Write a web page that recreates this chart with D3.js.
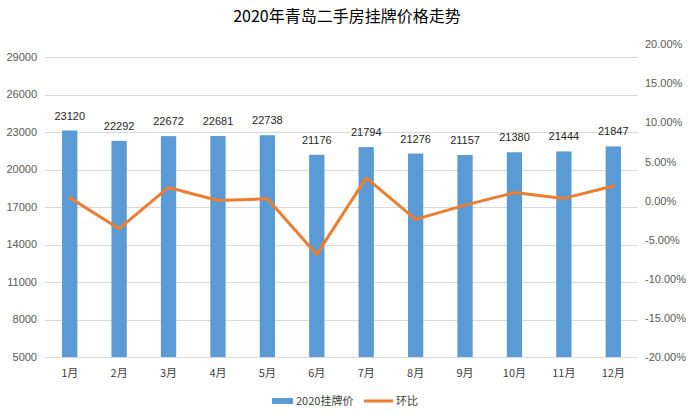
<!DOCTYPE html>
<html>
<head>
<meta charset="utf-8">
<script src="https://cdn.jsdelivr.net/npm/d3@7/dist/d3.min.js"></script>
<style>
  body { margin: 0; background: #fff; }
  text { font-family: "Noto Sans CJK SC", "Liberation Sans", sans-serif; }
</style>
</head>
<body>
<script>
var months = ['1月','2月','3月','4月','5月','6月','7月','8月','9月','10月','11月','12月'];
var prices = [23120, 22292, 22672, 22681, 22738, 21176, 21794, 21276, 21157, 21380, 21444, 21847];
var changes = [0.4, -3.58, 1.70, 0.04, 0.25, -6.87, 2.92, -2.38, -0.56, 1.05, 0.30, 1.88];
var leftTicks = [5000, 8000, 11000, 14000, 17000, 20000, 23000, 26000, 29000];
var rightTicks = [-20, -15, -10, -5, 0, 5, 10, 15, 20];

var width = 694,
    height = 414,
    plotLeft = 45,
    plotRight = 638,
    plotTop = 44.5,
    plotBottom = 357;

var svg = d3.select('body')
  .append('svg')
    .attr('width', width)
    .attr('height', height);

var x = d3.scaleBand()
  .domain(months)
  .range([plotLeft, plotRight])
  .paddingInner(0.69)
  .paddingOuter(0.345);

var y = d3.scaleLinear()
  .domain([5000, 30000])
  .range([plotBottom, plotTop]);

var y2 = d3.scaleLinear()
  .domain([-20, 20])
  .range([plotBottom, plotTop]);

// gridlines
svg.append('g')
  .selectAll('line')
    .data(leftTicks)
    .enter()
  .append('line')
    .attr('x1', plotLeft)
    .attr('x2', plotRight)
    .attr('y1', function(d) { return Math.round(y(d)) + 0.5; })
    .attr('y2', function(d) { return Math.round(y(d)) + 0.5; })
    .attr('stroke', '#d9d9d9')
    .attr('stroke-width', 1);

// left axis labels
svg.append('g')
  .selectAll('text')
    .data(leftTicks)
    .enter()
  .append('text')
    .attr('x', 37)
    .attr('y', function(d) { return y(d); })
    .attr('dy', '0.35em')
    .attr('text-anchor', 'end')
    .attr('font-size', 11)
    .attr('fill', '#595959')
    .style('font-family', 'Liberation Sans, sans-serif')
    .text(function(d) { return d; });

// right axis labels
svg.append('g')
  .selectAll('text')
    .data(rightTicks)
    .enter()
  .append('text')
    .attr('x', 645)
    .attr('y', function(d) { return y2(d); })
    .attr('dy', '0.35em')
    .attr('font-size', 11)
    .attr('fill', '#595959')
    .style('font-family', 'Liberation Sans, sans-serif')
    .text(function(d) { return d.toFixed(2) + '%'; });

// bars
svg.append('g')
  .selectAll('rect')
    .data(prices)
    .enter()
  .append('rect')
    .attr('x', function(d, i) { return x(months[i]); })
    .attr('y', function(d) { return y(d); })
    .attr('width', x.bandwidth())
    .attr('height', function(d) { return plotBottom - y(d); })
    .attr('fill', '#5b9bd5');

// bar labels
svg.append('g')
  .selectAll('text')
    .data(prices)
    .enter()
  .append('text')
    .attr('x', function(d, i) { return x(months[i]) + x.bandwidth() / 2; })
    .attr('y', function(d) { return y(d) - 11; })
    .attr('text-anchor', 'middle')
    .attr('font-size', 11)
    .attr('fill', '#262626')
    .style('font-family', 'Liberation Sans, sans-serif')
    .text(function(d) { return d; });

// change line
var line = d3.line()
  .x(function(d, i) { return x(months[i]) + x.bandwidth() / 2; })
  .y(function(d) { return y2(d); });

svg.append('path')
  .datum(changes)
  .attr('d', line)
  .attr('fill', 'none')
  .attr('stroke', '#ed7d31')
  .attr('stroke-width', 3)
  .attr('stroke-linejoin', 'round')
  .attr('stroke-linecap', 'round');

// month labels
svg.append('g')
  .selectAll('text')
    .data(months)
    .enter()
  .append('text')
    .attr('x', function(d) { return x(d) + x.bandwidth() / 2; })
    .attr('y', 373)
    .attr('dy', '0.35em')
    .attr('text-anchor', 'middle')
    .attr('font-size', 11)
    .attr('fill', '#404040')
    .text(function(d) { return d; });

// title
svg.append('text')
  .attr('x', 347)
  .attr('y', 16)
  .attr('dy', '0.35em')
  .attr('text-anchor', 'middle')
  .attr('font-size', 16)
  .attr('fill', '#000')
  .text('2020年青岛二手房挂牌价格走势');

// legend
var legend = svg.append('g');
legend.append('rect')
  .attr('x', 272)
  .attr('y', 398)
  .attr('width', 21)
  .attr('height', 6)
  .attr('fill', '#5b9bd5');
legend.append('text')
  .attr('x', 296)
  .attr('y', 401)
  .attr('dy', '0.35em')
  .attr('font-size', 11)
  .attr('fill', '#404040')
  .text('2020挂牌价');
legend.append('line')
  .attr('x1', 364)
  .attr('x2', 393)
  .attr('y1', 401)
  .attr('y2', 401)
  .attr('stroke', '#ed7d31')
  .attr('stroke-width', 3);
legend.append('text')
  .attr('x', 396)
  .attr('y', 401)
  .attr('dy', '0.35em')
  .attr('font-size', 11)
  .attr('fill', '#404040')
  .text('环比');
</script>
</body>
</html>
